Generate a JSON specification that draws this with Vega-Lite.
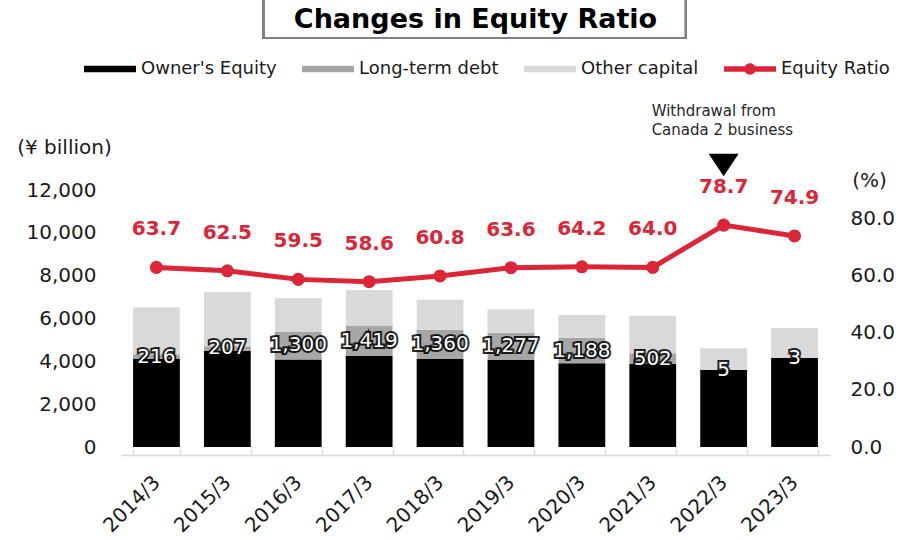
{
  "$schema": "https://vega.github.io/schema/vega-lite/v6.json",
  "width": 709,
  "height": 257,
  "autosize": {"type": "none"},
  "padding": {"left": 121, "top": 190, "right": 69, "bottom": 93},
  "background": "white",
  "config": {"font": "DejaVu Sans", "view": {"stroke": null}},
  "title": {"text": "Changes in Equity Ratio", "fontSize": 27, "fontWeight": "bold", "color": "#000000", "anchor": "middle", "frame": "group", "offset": -38},
  "datasets": {
    "capital": [
      {"year": "2014/3", "series": "Owner's Equity", "value": 4110},
      {"year": "2014/3", "series": "Long-term debt", "value": 216},
      {"year": "2014/3", "series": "Other capital", "value": 2194},
      {"year": "2015/3", "series": "Owner's Equity", "value": 4500},
      {"year": "2015/3", "series": "Long-term debt", "value": 207},
      {"year": "2015/3", "series": "Other capital", "value": 2533},
      {"year": "2016/3", "series": "Owner's Equity", "value": 4090},
      {"year": "2016/3", "series": "Long-term debt", "value": 1300},
      {"year": "2016/3", "series": "Other capital", "value": 1550},
      {"year": "2017/3", "series": "Owner's Equity", "value": 4250},
      {"year": "2017/3", "series": "Long-term debt", "value": 1419},
      {"year": "2017/3", "series": "Other capital", "value": 1661},
      {"year": "2018/3", "series": "Owner's Equity", "value": 4110},
      {"year": "2018/3", "series": "Long-term debt", "value": 1360},
      {"year": "2018/3", "series": "Other capital", "value": 1410},
      {"year": "2019/3", "series": "Owner's Equity", "value": 4060},
      {"year": "2019/3", "series": "Long-term debt", "value": 1277},
      {"year": "2019/3", "series": "Other capital", "value": 1093},
      {"year": "2020/3", "series": "Owner's Equity", "value": 3910},
      {"year": "2020/3", "series": "Long-term debt", "value": 1188},
      {"year": "2020/3", "series": "Other capital", "value": 1062},
      {"year": "2021/3", "series": "Owner's Equity", "value": 3870},
      {"year": "2021/3", "series": "Long-term debt", "value": 502},
      {"year": "2021/3", "series": "Other capital", "value": 1758},
      {"year": "2022/3", "series": "Owner's Equity", "value": 3590},
      {"year": "2022/3", "series": "Long-term debt", "value": 5},
      {"year": "2022/3", "series": "Other capital", "value": 1015},
      {"year": "2023/3", "series": "Owner's Equity", "value": 4150},
      {"year": "2023/3", "series": "Long-term debt", "value": 3},
      {"year": "2023/3", "series": "Other capital", "value": 1407}
    ],
    "ratio": [
      {"year": "2014/3", "ratio": 62.9, "label": 63.7},
      {"year": "2015/3", "ratio": 61.7, "label": 62.5},
      {"year": "2016/3", "ratio": 58.7, "label": 59.5},
      {"year": "2017/3", "ratio": 57.9, "label": 58.6},
      {"year": "2018/3", "ratio": 59.9, "label": 60.8},
      {"year": "2019/3", "ratio": 62.8, "label": 63.6},
      {"year": "2020/3", "ratio": 63.1, "label": 64.2},
      {"year": "2021/3", "ratio": 62.9, "label": 64.0},
      {"year": "2022/3", "ratio": 77.7, "label": 78.7},
      {"year": "2023/3", "ratio": 73.9, "label": 74.9}
    ],
    "note": [
      {"year": "2022/3", "ratio": 77.7, "note": "Withdrawal from\nCanada 2 business"}
    ]
  },
  "layer": [
    {
      "data": {"name": "capital"},
      "layer": [
        {
          "transform": [
            {"window": [{"op": "row_number", "as": "rank"}], "groupby": ["year"]}
          ],
          "mark": {"type": "bar"},
          "encoding": {
            "x": {
              "field": "year", "type": "nominal",
              "scale": {"paddingInner": 0.34, "paddingOuter": 0.17},
              "axis": {"title": null, "labelAngle": -45, "labelAlign": "right", "labelBaseline": "middle", "labelFontSize": 20, "labelColor": "#1a1a1a", "labelPadding": 30, "offset": 8, "domainColor": "#d9d9d9", "domainWidth": 1.5, "tickColor": "#d9d9d9", "tickWidth": 1.5, "tickSize": -6, "tickBand": "extent", "tickExtra": true, "grid": false}
            },
            "y": {
              "field": "value", "type": "quantitative",
              "scale": {"domain": [0, 12000]},
              "axis": {"title": "(¥ billion)", "values": [0, 2000, 4000, 6000, 8000, 10000, 12000], "format": ",.0f", "labelFontSize": 20, "labelColor": "#1a1a1a", "labelPadding": 25, "ticks": false, "domain": false, "grid": false, "titleAngle": 0, "titleX": -57, "titleY": -43, "titleAlign": "center", "titleBaseline": "middle", "titleFontSize": 20, "titleFontWeight": "normal", "titleColor": "#1a1a1a"}
            },
            "order": {"field": "rank", "type": "quantitative"},
            "color": {
              "field": "series", "type": "nominal",
              "scale": {"domain": ["Owner's Equity", "Long-term debt", "Other capital", "Equity Ratio"], "range": ["#000000", "#a6a6a6", "#d9d9d9", "#dc2638"]},
              "legend": {
                "orient": "none", "legendX": -37, "legendY": -147, "direction": "horizontal", "title": null, "padding": 0,
                "labelFontSize": 18, "labelColor": "#1a1a1a", "labelOffset": 5, "columnPadding": 25,
                "symbolSize": 2704, "symbolType": "M-1,-0.125H1V0.125H-1Z", "symbolStrokeWidth": 0, "symbolOpacity": 1,
                "encode": {"symbols": {"update": {"shape": {"signal": "datum.value === 'Equity Ratio' ? 'M-1,-0.11H1V0.11H-1Z M0.22,0A0.22,0.22 0 1,1 -0.22,0A0.22,0.22 0 1,1 0.22,0Z' : 'M-1,-0.125H1V0.125H-1Z'"}}}}
              }
            }
          }
        },
        {
          "mark": {"type": "rect", "fill": null, "stroke": "#808080", "strokeWidth": 2},
          "encoding": {
            "x": {"datum": "2016/3", "bandPosition": -0.25},
            "x2": {"datum": "2021/3", "bandPosition": 1.21},
            "y": {"datum": 19100},
            "y2": {"datum": 21000}
          }
        },
        {
          "transform": [
            {"filter": {"field": "series", "oneOf": ["Owner's Equity", "Long-term debt"]}},
            {"stack": "value", "groupby": ["year"], "sort": [{"field": "series", "order": "descending"}], "as": ["lo", "hi"]},
            {"filter": {"field": "series", "equal": "Long-term debt"}},
            {"fold": ["lo", "hi"], "as": ["edge", "pos"]},
            {"aggregate": [{"op": "mean", "field": "pos", "as": "mid"}], "groupby": ["year", "value"]}
          ],
          "layer": [
            {
              "mark": {"type": "text", "fontSize": 20, "color": "#000000", "stroke": "#000000", "strokeWidth": 4, "strokeOpacity": 0.85, "baseline": "middle"},
              "encoding": {
                "x": {"field": "year", "type": "nominal"},
                "y": {"field": "mid", "type": "quantitative"},
                "text": {"field": "value", "type": "quantitative", "format": ","}
              }
            },
            {
              "mark": {"type": "text", "fontSize": 20, "color": "#ffffff", "baseline": "middle"},
              "encoding": {
                "x": {"field": "year", "type": "nominal"},
                "y": {"field": "mid", "type": "quantitative"},
                "text": {"field": "value", "type": "quantitative", "format": ","}
              }
            }
          ]
        }
      ]
    },
    {
      "layer": [
        {
          "data": {"name": "ratio"},
          "mark": {"type": "line", "color": "#dc2638", "strokeWidth": 5, "point": {"filled": true, "size": 170, "color": "#dc2638"}},
          "encoding": {
            "x": {"field": "year", "type": "nominal"},
            "y": {
              "field": "ratio", "type": "quantitative",
              "scale": {"domain": [0, 90]},
              "axis": {"orient": "right", "title": "(%)", "values": [0, 20, 40, 60, 80], "format": ".1f", "labelFontSize": 20, "labelColor": "#1a1a1a", "labelPadding": 20, "ticks": false, "domain": false, "grid": false, "titleAngle": 0, "titleX": 39, "titleY": -10, "titleAlign": "center", "titleBaseline": "middle", "titleFontSize": 20, "titleFontWeight": "normal", "titleColor": "#1a1a1a"}
            }
          }
        },
        {
          "data": {"name": "ratio"},
          "mark": {"type": "text", "fontSize": 20, "fontWeight": "bold", "color": "#dc2638", "baseline": "middle", "dy": -38},
          "encoding": {
            "x": {"field": "year", "type": "nominal"},
            "y": {"field": "ratio", "type": "quantitative"},
            "text": {"field": "label", "type": "quantitative", "format": ".1f"}
          }
        },
        {
          "data": {"name": "note"},
          "mark": {"type": "point", "shape": "M-1,-0.75L0,0.75L1,-0.75Z", "size": 900, "filled": true, "color": "#000000", "opacity": 1, "yOffset": -60},
          "encoding": {
            "x": {"field": "year", "type": "nominal"},
            "y": {"field": "ratio", "type": "quantitative"}
          }
        },
        {
          "data": {"name": "note"},
          "mark": {"type": "text", "fontSize": 15, "color": "#262626", "align": "left", "baseline": "top", "lineBreak": "\n", "lineHeight": 18.5, "dx": -72, "dy": -121},
          "encoding": {
            "x": {"field": "year", "type": "nominal"},
            "y": {"field": "ratio", "type": "quantitative"},
            "text": {"field": "note"}
          }
        }
      ]
    }
  ],
  "resolve": {"scale": {"y": "independent"}}
}
